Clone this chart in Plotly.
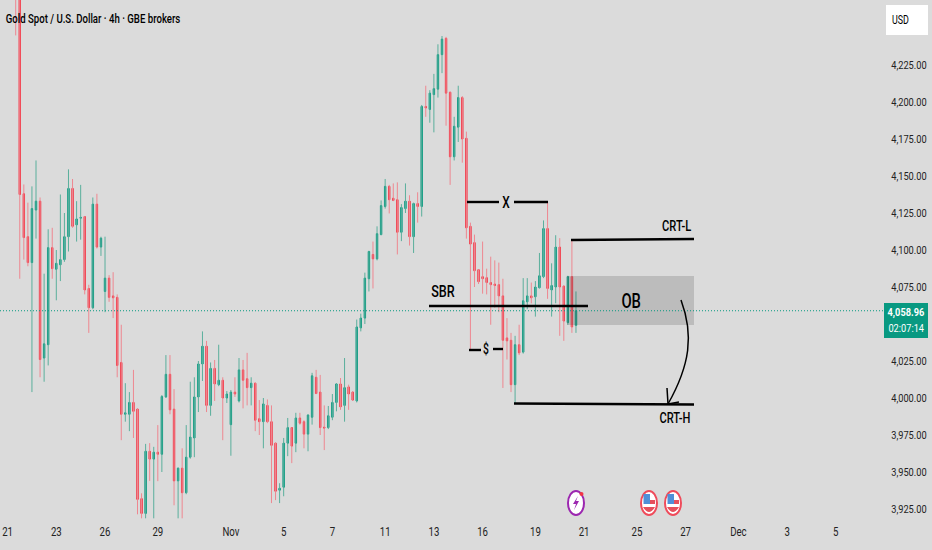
import plotly.graph_objects as go

# 4h gold candles, left to right
opens = [4300, 4272, 4138, 4109, 4091.5, 4127, 4133, 4027, 4036, 4101.6, 4087, 4090, 4093.5, 4109, 4141.6, 4117, 4121.5, 4122.6, 4074, 4061,
         4131, 4102, 4072, 4081, 4069, 4068, 4024, 3989, 3989, 3997, 3992.5, 3932, 3922, 3964, 3958.7, 3963.4, 3962, 4000.7, 4016, 3992.5,
         3944, 3952.6, 3936, 3960, 3973, 4000.7, 4023, 4035, 3995, 4020, 4009, 4012, 4000, 3982, 4004, 3998, 4019, 4013, 4007, 4010,
         3986, 3984, 3995, 3984, 3969.5, 3937.7, 3939.7, 3969.5, 3980, 3969.5, 3986.5, 3984, 3975.6, 3987, 4014, 4004, 3980.3, 3980, 3987, 3997,
         4009.5, 3995, 4007.5, 4004, 3998, 4047.4, 4054, 4080.6, 4097, 4094, 4110.4, 4129.4, 4143, 4135, 4134, 4112, 4128, 4133, 4109, 4131.4,
         4129.4, 4197, 4195, 4205, 4208.7, 4232, 4243, 4206.6, 4163, 4183, 4203, 4175.5, 4116, 4105, 4086.7, 4082, 4081.3, 4078, 4077, 4076.6,
         4069, 4040.6, 4039, 4009, 4036, 4031, 4065, 4069, 4068.4, 4074.5, 4082, 4114.5, 4073, 4075, 4102, 4075.6, 4051, 4082, 4049]
highs = [4310, 4280, 4144.3, 4132, 4143, 4160.5, 4135.5, 4084, 4114, 4115, 4100, 4137.5, 4125, 4154.5, 4148, 4133, 4144, 4123, 4076.5, 4135.5,
         4138, 4109, 4109, 4083, 4085, 4070, 4049.5, 4010, 4004, 4019, 3993, 3935.6, 3969, 3969.5, 3967, 3981.7, 4002, 4029, 4029, 4006,
         3953, 3966, 3981.7, 4011, 4014, 4025, 4045, 4038.6, 4024, 4025.7, 4036, 4014, 4004.7, 4005.4, 4014, 4027, 4025.7, 4030.5, 4014, 4010.5,
         3998.6, 4000, 3999, 3995, 3970, 3942.4, 3973, 3986.5, 3980.3, 3990, 3990, 3985, 3989, 4017, 4019, 4015.6, 3995, 3994.6, 4002.7, 4010,
         4013.5, 4027, 4009, 4004.7, 4053, 4057, 4084.7, 4099.5, 4105.7, 4116, 4133.5, 4148, 4144, 4145, 4145.7, 4131, 4145, 4137, 4132, 4139,
         4198, 4211, 4208, 4219, 4239, 4244.6, 4244, 4207, 4190, 4211, 4204, 4180, 4118.5, 4110.4, 4087, 4105.7, 4087.4, 4095.5, 4093, 4091.5,
         4080.6, 4054, 4044, 4042, 4049.5, 4081, 4081, 4078, 4079, 4098, 4120, 4133, 4091, 4110, 4108, 4076, 4082.6, 4107, 4072]
lows = [4245, 4080.6, 4093.5, 4089, 4004, 4107.7, 4014, 4011, 4022, 4080.6, 4066, 4079, 4092, 4099, 4115, 4105.7, 4107, 4070, 4044, 4060,
        4101, 4096, 4058, 4065, 4054, 4014, 3971.5, 3984, 3977.6, 3973, 3921.4, 3918.7, 3918.7, 3944, 3918.7, 3943.8, 3950, 4000, 3989, 3927.5,
        3918.7, 3918.7, 3935, 3959, 3960, 3990.5, 4011.5, 3990.5, 3988, 3998, 4008, 3971.5, 3996.6, 3961, 4000.7, 3997, 3993, 3995, 3995, 3977.6,
        3975, 3966, 3983, 3929, 3931, 3929, 3933.6, 3960.7, 3956, 3963.4, 3982, 3966, 3964, 3982, 4002.7, 3975, 3964.8, 3979, 3985, 3991,
        3992, 3984, 3992, 3998, 3997, 4045, 4050, 4072, 4074, 4093, 4110, 4128, 4124.7, 4133, 4097, 4106, 4125, 4103, 4098, 4118.5,
        4122.6, 4190, 4186, 4179.5, 4203, 4219.5, 4184, 4144, 4160.5, 4173, 4159, 4107.7, 4032.5, 4075, 4077, 4070.5, 4070, 4049.5, 4061, 4058,
        4006.8, 4026, 4004, 3996.6, 4029, 4030, 4060, 4064, 4055, 4074, 4081, 4067, 4055, 4064, 4042, 4038.6, 4049.5, 4044, 4044]
closes = [4272, 4137.5, 4108.4, 4091.5, 4128, 4133, 4026, 4036.6, 4101.6, 4087.4, 4091, 4093.5, 4109, 4141.6, 4116, 4121, 4122, 4073, 4061, 4131,
          4102, 4108, 4081, 4068, 4067.7, 4022, 3989, 3990, 3997, 3991, 3931.5, 3922, 3964, 3958.7, 3963.4, 3962, 4001, 4016, 3992, 3944,
          3952.6, 3936, 3960, 3973.6, 4000.7, 4023, 4035, 3995, 4020, 4009.5, 4012, 4000, 4002.7, 4004, 4002.7, 4019, 4012, 4007, 4010, 3985,
          3984, 3996, 3984, 3968, 3937, 3939, 3969.5, 3980, 3967.5, 3986.5, 3983, 3975.6, 3988.5, 4015, 4003, 3980, 3979.7, 3988, 3997, 4009.5,
          3994, 4007, 4002.7, 3998.6, 4048, 4054, 4081, 4099, 4094, 4111, 4130, 4143, 4134, 4133.5, 4112, 4128.7, 4133, 4109, 4131.4, 4129.4,
          4197, 4196, 4206, 4209, 4232, 4242.5, 4206, 4163, 4183.6, 4203, 4175, 4115, 4104, 4086, 4078.6, 4080.6, 4078, 4076.6, 4076, 4069,
          4039, 4038.6, 4009, 4036, 4030.5, 4065.7, 4069, 4067.7, 4075, 4082.6, 4114.5, 4074, 4076, 4102, 4075, 4052, 4082, 4048, 4058.96]
candle_idx = list(range(len(opens)))

x_tick_vals = [-2, 10, 22, 35, 53, 66, 78, 91, 103, 115, 128, 140, 153, 165, 178, 190, 202]
x_tick_text = ['21', '23', '26', '29', 'Nov', '5', '7', '11', '13', '16', '19', '21', '25', '27', 'Dec', '3', '5']
y_tick_vals = [3925, 3950, 3975, 4000, 4025, 4075, 4100, 4125, 4150, 4175, 4200, 4225]
y_tick_text = ['3,925.00', '3,950.00', '3,975.00', '4,000.00', '4,025.00', '4,075.00',
               '4,100.00', '4,125.00', '4,150.00', '4,175.00', '4,200.00', '4,225.00']

last_price = 4058.96

BG = '#dbdbdb'
GREEN = '#089981'
RED = '#f23645'
FONT = 'Roboto'


# overlay drawings are placed by screen position on the 932x550 page
def xi(px):
    return (px - 15.7) / 4.06


def pr(py):
    return 4000 + (398 - py) * 0.6757


fig = go.Figure()

# wicks first, thin and lighter than the bodies
for want_up, color in [(True, '#5aaf9c'), (False, '#ee8790')]:
    wick_x = []
    wick_y = []
    for i in candle_idx:
        if (closes[i] >= opens[i]) == want_up:
            wick_x += [i, i, None]
            wick_y += [lows[i], highs[i], None]
    fig.add_trace(go.Scatter(x=wick_x, y=wick_y, mode='lines', line=dict(color=color, width=1),
                             showlegend=False, hoverinfo='skip'))

fig.add_trace(go.Candlestick(
    x=candle_idx,
    open=opens,
    high=[max(o, c) for o, c in zip(opens, closes)],
    low=[min(o, c) for o, c in zip(opens, closes)],
    close=closes,
    whiskerwidth=0,
    increasing=dict(line=dict(color=GREEN, width=1), fillcolor=GREEN),
    decreasing=dict(line=dict(color=RED, width=1), fillcolor=RED),
    showlegend=False,
    hoverinfo='skip'
))

shapes = []


def line(x0, y0, x1, y1, width=2.4):
    shapes.append(dict(type='line', xref='x', yref='y', x0=xi(x0), y0=pr(y0), x1=xi(x1), y1=pr(y1),
                       line=dict(color='black', width=width), layer='above'))


# order block
shapes.append(dict(type='rect', xref='x', yref='y', x0=xi(567), x1=xi(694), y0=pr(276), y1=pr(325),
                   fillcolor='rgba(0,0,0,0.14)', line=dict(width=0), layer='above'))
# last price line
shapes.append(dict(type='line', xref='paper', yref='y', x0=0, x1=885 / 868, y0=last_price, y1=last_price,
                   line=dict(color=GREEN, width=1, dash='1px,2px'), layer='above'))

line(429, 306, 588, 306)
line(467, 202, 499, 202)
line(514, 202, 548, 202)
line(469, 350, 481, 350)
line(493, 349, 503, 349)
line(571, 240, 694, 239)
line(514, 403.5, 694, 404.5)

# curved arrow down to CRT-H
shapes.append(dict(
    type='path', xref='x', yref='y', layer='above',
    path=f'M {xi(681)} {pr(300)} C {xi(694)} {pr(335)}, {xi(690)} {pr(365)}, {xi(668)} {pr(404)}',
    line=dict(color='black', width=1.5)
))
line(667, 388, 668, 404, 1.5)
line(668, 404, 679, 402, 1.5)

# event markers along the bottom
cx, cy = 576, 503
shapes.append(dict(type='circle', xref='x', yref='y', x0=xi(cx - 8), x1=xi(cx + 8), y0=pr(cy - 12), y1=pr(cy + 12),
                   fillcolor='white', line=dict(color='#9c27b0', width=2), layer='above'))
shapes.append(dict(type='path', xref='x', yref='y', layer='above', fillcolor='#9c27b0', line=dict(width=0),
                   path=f'M {xi(cx + 2)} {pr(cy - 7)} L {xi(cx - 3)} {pr(cy + 1)} L {xi(cx)} {pr(cy + 1)} '
                        f'L {xi(cx - 2)} {pr(cy + 7)} L {xi(cx + 3)} {pr(cy - 2)} L {xi(cx)} {pr(cy - 2)} Z'))
shapes.append(dict(type='circle', xref='x', yref='y', x0=xi(cx + 3.5), x1=xi(cx + 7.5), y0=pr(cy - 11), y1=pr(cy - 7),
                   fillcolor='#f23645', line=dict(width=0), layer='above'))
for cx in [649, 673]:
    shapes.append(dict(type='circle', xref='x', yref='y', x0=xi(cx - 8), x1=xi(cx + 8), y0=pr(cy - 12), y1=pr(cy + 12),
                       fillcolor='white', line=dict(color='#ef4b5b', width=2), layer='above'))
    shapes.append(dict(type='rect', xref='x', yref='y', x0=xi(cx - 5.5), x1=xi(cx + 1), y0=pr(cy - 9), y1=pr(cy + 1),
                       fillcolor='#4f8fd8', line=dict(width=0), layer='above'))
    shapes.append(dict(type='rect', xref='x', yref='y', x0=xi(cx + 1), x1=xi(cx + 6), y0=pr(cy - 3), y1=pr(cy + 1),
                       fillcolor='#e5505c', line=dict(width=0), layer='above'))
    shapes.append(dict(type='path', xref='x', yref='y', layer='above', fillcolor='#e5505c', line=dict(width=0),
                       path=f'M {xi(cx - 6)} {pr(cy + 4)} L {xi(cx + 6)} {pr(cy + 4)} '
                            f'Q {xi(cx)} {pr(cy + 14)} {xi(cx - 6)} {pr(cy + 4)} Z'))

# last price tag and currency box
shapes.append(dict(type='rect', xref='paper', yref='paper', x0=884 / 868, x1=928 / 868, y0=1 - 338 / 522, y1=1 - 303 / 522,
                   fillcolor=GREEN, line=dict(width=0), layer='above'))
shapes.append(dict(type='rect', xref='paper', yref='paper', x0=886 / 868, x1=928 / 868, y0=1 - 35 / 522, y1=1 - 5 / 522,
                   fillcolor='white', line=dict(width=0), layer='above'))


def label(text, px, py, size, color='#000000', weight=500):
    fig.add_annotation(text=text, xref='paper', yref='paper', x=px / 868, y=1 - py / 522, showarrow=False,
                       xanchor='center', yanchor='middle',
                       font=dict(family=FONT, size=size, color=color, weight=weight))


label('Gold Spot / U.S. Dollar · 4h · GBE brokers', 93, 19, 13)
label('SBR', 443, 291, 17)
label('X', 506, 203, 16)
label('$', 486, 349, 14)
label('OB', 631, 301, 20)
label('CRT-L', 676, 226, 15)
label('CRT-H', 675, 418, 15)
label('USD', 900, 20, 12, weight=400)
label('4,058.96', 906, 312, 11, color='white', weight=700)
label('02:07:14', 906, 328, 11, color='white', weight=400)

fig.update_layout(
    width=932,
    height=550,
    margin=dict(l=0, r=64, t=0, b=28),
    paper_bgcolor=BG,
    plot_bgcolor=BG,
    boxmode='overlay',
    boxgap=0.5,
    shapes=shapes,
    showlegend=False,
    font=dict(family=FONT, size=13, color='#222222'),
    xaxis=dict(
        range=[xi(0), xi(868)],
        rangeslider=dict(visible=False),
        automargin=False,
        showgrid=False,
        zeroline=False,
        showline=False,
        ticks='',
        tickmode='array',
        tickvals=x_tick_vals,
        ticktext=x_tick_text,
        tickfont=dict(family=FONT, size=13, color='#222222')
    ),
    yaxis=dict(
        range=[pr(522), pr(0)],
        side='right',
        automargin=False,
        showgrid=False,
        zeroline=False,
        showline=False,
        ticks='outside',
        ticklen=20,
        tickcolor=BG,
        tickmode='array',
        tickvals=y_tick_vals,
        ticktext=y_tick_text,
        tickfont=dict(family=FONT, size=11, color='#222222')
    )
)

# the reference lettering is condensed, so squeeze the real text horizontally
squeeze = """
document.body.style.margin = '0';
document.querySelectorAll('.main-svg text').forEach(function (t) {
    var w = t.getComputedTextLength();
    if (w > 0) {
        var small = t.closest('.ytick') || /^(4,058|02:07)/.test(t.textContent);
        t.setAttribute('textLength', w * (small ? 0.84 : 0.74));
        t.setAttribute('lengthAdjust', 'spacingAndGlyphs');
    }
});
"""
fig.write_html("out.html", config=dict(displayModeBar=False), post_script=squeeze)
